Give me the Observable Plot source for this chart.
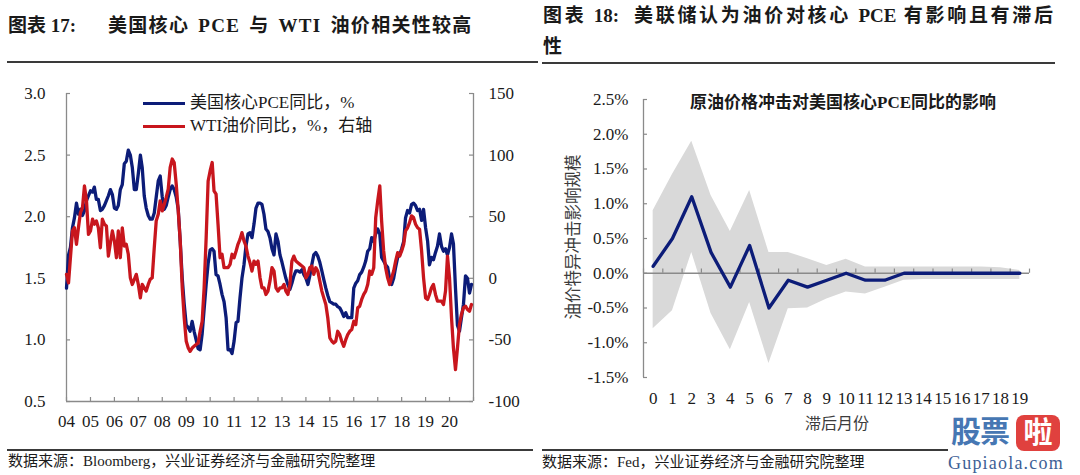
<!DOCTYPE html>
<html><head><meta charset="utf-8">
<script src="https://cdn.jsdelivr.net/npm/d3@7"></script>
<script src="https://cdn.jsdelivr.net/npm/@observablehq/plot@0.6"></script>
<style>
body{margin:0;background:#fff;}
#page{position:relative;width:1080px;height:475px;overflow:hidden;background:#fff;font-family:'Liberation Serif','Noto Sans CJK SC',serif;color:#1a1a1a;}
.abs{position:absolute;white-space:nowrap;}
.title{font-size:19px;font-weight:bold;line-height:24px;}
.rule{position:absolute;height:2px;background:#3a3a3a;}
.src{font-size:15px;line-height:20px;}
.leg{font-size:17px;line-height:22px;}
#left,#right{position:absolute;top:70px;}
#left{left:0;} #right{left:540px;}
</style></head>
<body><div id="page">
  <div class="abs title" style="left:8px;top:14px;">图表 17:</div>
  <div class="abs title" style="left:108px;top:14px;word-spacing:3px;letter-spacing:1.3px;">美国核心 PCE 与 WTI 油价相关性较高</div>
  <div class="rule" style="left:7px;top:61px;width:531px;"></div>

  <div class="abs title" style="left:543px;top:4px;width:510px;text-align:justify;text-align-last:justify;white-space:normal;">图表 18:&nbsp; 美联储认为油价对核心 PCE 有影响且有滞后</div>
  <div class="abs title" style="left:543px;top:35px;">性</div>
  <div class="rule" style="left:542px;top:62px;width:513px;"></div>

  <div id="left"></div>
  <div id="right"></div>

  <div class="abs" style="left:143px;top:101.5px;width:42px;height:3px;background:#0c1c78;"></div>
  <div class="abs leg" style="left:190px;top:92px;">美国核心PCE同比，%</div>
  <div class="abs" style="left:143px;top:124.5px;width:42px;height:3px;background:#c8161d;"></div>
  <div class="abs leg" style="left:190px;top:115px;">WTI油价同比，%，右轴</div>

  <div class="abs" style="left:843px;top:92px;transform:translateX(-50%);font-size:17px;font-weight:bold;line-height:22px;">原油价格冲击对美国核心PCE同比的影响</div>
  <div class="abs" style="left:572px;top:237px;transform:translate(-50%,-50%) rotate(-90deg);font-size:16.5px;color:#3c3c3c;">油价特异冲击影响规模</div>
  <div class="abs" style="left:837px;top:422px;transform:translate(-50%,-50%);font-size:16px;color:#3c3c3c;">滞后月份</div>

  <div class="rule" style="left:7px;top:449px;width:526px;"></div>
  <div class="rule" style="left:542px;top:449px;width:406px;"></div>
  <div class="abs src" style="left:8px;top:451px;">数据来源：Bloomberg，兴业证券经济与金融研究院整理</div>
  <div class="abs src" style="left:542px;top:452px;">数据来源：Fed，兴业证券经济与金融研究院整理</div>

  <div class="abs" style="left:951px;top:414px;font-size:30px;font-weight:bold;color:#4677b3;line-height:36px;letter-spacing:-1px;">股票</div>
  <div class="abs" style="left:1016px;top:415px;width:44px;height:36px;border-radius:8px;background:#e0413e;color:#fff;font-size:29px;font-weight:bold;line-height:36px;text-align:center;">啦</div>
  <div class="abs" style="left:948px;top:452px;font-size:18px;color:#3d5f96;letter-spacing:1.2px;line-height:22px;">Gupiaola.com</div>
</div>
<script>
// ---------- data: left chart (monthly, from Jan 2004) ----------
const startYear = 2004;
const pce = [
1.42,1.69,1.75,1.91,1.99,2.11,2.02,2.06,2.01,2.05,
2.13,2.17,2.21,2.20,2.24,2.14,2.14,2.05,2.06,2.09,
2.13,2.17,2.22,2.18,2.07,2.06,2.09,2.22,2.26,2.43,
2.45,2.54,2.50,2.40,2.22,2.22,2.35,2.50,2.40,2.17,
2.07,2.01,1.98,1.98,2.03,2.16,2.29,2.33,2.16,2.06,
2.09,2.16,2.22,2.25,2.22,2.16,2.06,1.80,1.50,1.29,
1.12,1.10,1.07,1.15,1.07,1.00,0.93,0.92,1.05,1.25,
1.45,1.62,1.73,1.74,1.72,1.53,1.52,1.45,1.37,1.31,
1.18,0.92,0.92,0.89,0.99,1.14,1.15,1.34,1.50,1.61,
1.76,1.86,1.87,1.83,1.94,2.07,2.11,2.11,2.10,2.02,
1.90,1.88,1.83,1.74,1.69,1.86,1.80,1.69,1.63,1.56,
1.50,1.45,1.41,1.46,1.52,1.56,1.56,1.55,1.57,1.53,
1.50,1.45,1.52,1.61,1.69,1.71,1.68,1.63,1.56,1.49,
1.42,1.36,1.31,1.30,1.29,1.29,1.27,1.26,1.23,1.19,
1.22,1.18,1.18,1.18,1.42,1.46,1.48,1.53,1.55,1.59,
1.64,1.72,1.74,1.83,1.80,1.86,1.90,1.86,1.67,1.64,
1.61,1.59,1.50,1.45,1.50,1.59,1.67,1.69,1.74,1.80,
1.99,2.05,2.03,2.10,2.11,2.09,2.05,2.06,1.97,2.06,
1.91,1.80,1.61,1.67,1.65,1.71,1.76,1.86,1.76,1.72,
1.74,1.69,1.75,1.86,1.78,1.42,1.12,1.07,1.18,1.29,
1.52,1.50,1.38,1.45];
const wti = [
3.2,-3.7,16.7,38.4,41.1,27.6,41.0,53.4,57.4,75.0,
62.9,35.7,38.4,48.0,43.9,46.6,41.0,24.8,48.0,43.9,
42.5,18.0,28.9,38.4,30.3,16.7,38.4,16.7,41.0,26.2,
27.6,19.5,0.4,-5.0,-0.9,3.2,-5.0,-15.9,-5.0,-7.7,
-10.4,-5.0,-0.9,0.4,24.8,46.6,52.0,62.9,54.7,60.2,
65.6,72.4,90.0,96.8,94.0,76.5,54.7,30.3,-7.7,-32.2,
-51.1,-56.6,-59.3,-56.6,-55.2,-53.8,-52.5,-43.0,-34.9,-7.7,
33.0,79.0,87.3,94.0,71.0,68.3,43.9,16.7,19.5,8.6,
8.6,8.6,11.3,19.5,16.7,22.2,27.6,31.6,37.1,30.3,
26.2,18.0,12.6,5.9,14.0,11.3,14.0,0.4,-7.7,-7.7,
-13.1,-10.4,-2.3,8.6,5.9,-7.7,-10.4,-7.7,-7.7,-5.0,
-10.4,-13.1,-5.0,14.0,18.0,14.0,12.6,11.3,10.0,8.6,
0.4,3.2,8.6,10.0,3.2,8.6,5.9,-2.3,-10.4,-15.9,
-21.3,-32.2,-48.4,-51.1,-52.5,-51.1,-43.0,-45.7,-51.1,-55.2,
-49.8,-45.7,-43.0,-41.6,-34.9,-37.5,-24.0,-22.6,-17.2,-13.1,
-10.4,-5.0,5.9,3.2,8.6,49.3,62.9,75.0,46.6,22.2,
8.6,0.4,-5.0,0.4,5.9,14.0,20.8,18.0,22.2,27.6,
38.4,41.0,45.2,50.7,49.3,43.9,41.0,39.8,22.2,0.4,
-15.9,-17.2,-13.1,-7.7,-5.0,-13.1,-18.5,-18.5,-18.5,-21.3,
-10.4,18.0,0.4,-32.2,-56.6,-74.2,-56.6,-37.5,-29.3,-24.0,
-22.6,-25.3,-26.7,-21.3];
const yearLabels = ["04","05","06","07","08","09","10","11","12","13","14","15","16","17","18","19","20"];
const pceTicks = [0.5, 1.0, 1.5, 2.0, 2.5, 3.0];
const wtiTicks = [-100, -50, 0, 50, 100, 150];

// ---------- data: right chart ----------
const lags = [0,1,2,3,4,5,6,7,8,9,10,11,12,13,14,15,16,17,18,19];
const impact = [0.1,0.5,1.1,0.3,-0.2,0.4,-0.5,-0.1,-0.2,-0.1,0.0,-0.1,-0.1,0,0,0,0,0,0,0];
const upper = [0.9,1.42,1.9,1.12,0.6,1.19,0.3,0.3,0.21,0.11,0.2,0.09,0.09,0.09,0.09,0.09,0.09,0.09,0.08,0.04];
const lower = [-0.8,-0.54,0.3,-0.58,-1.1,-0.42,-1.3,-0.51,-0.5,-0.37,-0.27,-0.3,-0.2,-0.1,-0.09,-0.09,-0.09,-0.09,-0.09,-0.09];
const pctTicks = [-1.5,-1.0,-0.5,0.0,0.5,1.0,1.5,2.0,2.5];

// ---------- styles ----------
const navy = "#0c1c78", red = "#c8161d", axisGray = "#8a8a8a", bandGray = "#d9d9d9";
const FONT = "'Liberation Serif','Noto Sans CJK SC',serif";

// ---------- left chart ----------
const month = i => new Date(Date.UTC(startYear, i, 1));
const toLeft = w => 1.5 + w / 100;           // right-axis value expressed on the left scale
const rows = pce.map((v, i) => ({date: month(i), pce: v, wti: toLeft(wti[i])}));
const yearTicks = yearLabels.map((_, i) => new Date(Date.UTC(startYear + i, 0, 1)));
const xEnd = new Date(Date.UTC(startYear + yearLabels.length, 0, 1));
const allYearTicks = [...yearTicks, xEnd];
const labelOf = new Map(yearTicks.map((d, i) => [+d, yearLabels[i]]));
const wtiLabel = new Map(wtiTicks.map(w => [toLeft(w), String(w)]));

const LW = 540, LH = 370, LML = 66, LMR = 67, LMT = 23, LMB = 39;
const lFrameW = LW - LML - LMR, lFrameH = LH - LMT - LMB;

const left = Plot.plot({
  width: LW, height: LH,
  marginLeft: LML, marginRight: LMR, marginTop: LMT, marginBottom: LMB,
  style: {fontFamily: FONT, fontSize: "17px", color: "#1a1a1a", background: "transparent"},
  x: {type: "utc", domain: [yearTicks[0], xEnd]},
  y: {domain: [0.5, 3.0]},
  marks: [
    Plot.ruleX([yearTicks[0], xEnd], {stroke: axisGray, strokeWidth: 1.3}),
    Plot.ruleY([0.5], {stroke: axisGray, strokeWidth: 1.3}),
    Plot.tickX(allYearTicks, {x: d => d, stroke: axisGray, strokeWidth: 1.2, insetTop: lFrameH - 4}),
    Plot.tickY(pceTicks, {y: d => d, stroke: axisGray, strokeWidth: 1.2, insetRight: lFrameW - 4}),
    Plot.tickY(wtiTicks.map(toLeft), {y: d => d, stroke: axisGray, strokeWidth: 1.2, insetLeft: lFrameW - 4}),
    Plot.line(rows, {x: "date", y: "pce", stroke: navy, strokeWidth: 3.3}),
    Plot.line(rows, {x: "date", y: "wti", stroke: red, strokeWidth: 3.3}),
    Plot.axisY({anchor: "left", ticks: pceTicks, tickFormat: d3.format(".1f"), tickSize: 0, tickPadding: 21, label: null}),
    Plot.axisY({anchor: "right", ticks: wtiTicks.map(toLeft), tickFormat: v => wtiLabel.get(v), tickSize: 0, tickPadding: 15, label: null}),
    Plot.axisX({anchor: "bottom", ticks: yearTicks, tickFormat: d => labelOf.get(+d), tickSize: 0, tickPadding: 13, label: null})
  ]
});
document.getElementById("left").appendChild(left);

// ---------- right chart ----------
const lagRows = lags.map((l, i) => ({lag: l, v: impact[i], lo: lower[i], hi: upper[i]}));
const bounds = [...lags.map(l => l - 0.5), lags[lags.length - 1] + 0.5];
const RW = 540, RH = 380, RML = 103, RMR = 51, RMT = 29, RMB = 73;
const rFrameW = RW - RML - RMR;

const right = Plot.plot({
  width: RW, height: RH,
  marginLeft: RML, marginRight: RMR, marginTop: RMT, marginBottom: RMB,
  style: {fontFamily: FONT, fontSize: "17px", color: "#1a1a1a", background: "transparent"},
  x: {domain: [bounds[0], bounds[bounds.length - 1]]},
  y: {domain: [-1.5, 2.5]},
  marks: [
    Plot.areaY(lagRows, {x: "lag", y1: "lo", y2: "hi", fill: bandGray}),
    Plot.ruleX([bounds[0]], {stroke: axisGray, strokeWidth: 1.3}),
    Plot.ruleY([0], {stroke: axisGray, strokeWidth: 1.3}),
    Plot.ruleX(bounds, {x: d => d, y1: 0, y2: 0.06, stroke: axisGray, strokeWidth: 1.2}),
    Plot.tickY(pctTicks, {y: d => d, stroke: axisGray, strokeWidth: 1.2, insetRight: rFrameW - 4}),
    Plot.line(lagRows, {x: "lag", y: "v", stroke: navy, strokeWidth: 3.3}),
    Plot.axisY({anchor: "left", ticks: pctTicks, tickFormat: d => d.toFixed(1) + "%", tickSize: 0, tickPadding: 15, label: null}),
    Plot.axisX({anchor: "bottom", ticks: lags, tickFormat: d => String(d), tickSize: 0, tickPadding: 14, label: null})
  ]
});
document.getElementById("right").appendChild(right);
</script>
</body></html>
